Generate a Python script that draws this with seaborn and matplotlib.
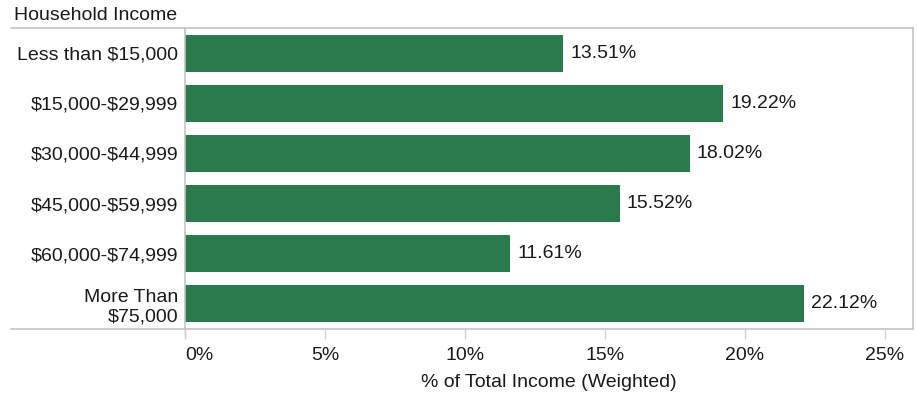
import matplotlib
matplotlib.use("Agg")
import matplotlib.pyplot as plt
import seaborn as sns
import pandas as pd

categories = ["Less than $15,000", "$15,000-$29,999", "$30,000-$44,999",
              "$45,000-$59,999", "$60,000-$74,999", "More Than\n$75,000"]
shares = [13.51, 19.22, 18.02, 15.52, 11.61, 22.12]
x_ticks = [0, 5, 10, 15, 20, 25]
x_tick_labels = ["0%", "5%", "10%", "15%", "20%", "25%"]

sns.set_theme(style="white")
plt.rcParams["font.family"] = ["Liberation Sans", "DejaVu Sans"]
plt.rcParams["text.parse_math"] = False

df = pd.DataFrame({"Household Income": categories, "share": shares})

W, H = 917, 393
FS = 14
TXT = "#1a1a1a"
fig = plt.figure(figsize=(W / 100, H / 100), dpi=100)
ax = fig.add_axes([185 / W, 1 - 329 / H, (913 - 185) / W, (329 - 28) / H])

sns.barplot(data=df, y="Household Income", x="share", orient="h",
            color="#2a7a4e", saturation=1, width=0.74, linewidth=0, ax=ax)

ax.set_xlim(0, 26)
ax.set_ylim(5.5, -0.5)

for i, v in enumerate(shares):
    ax.text(v + 0.25, i, f"{v:.2f}%", va="center", ha="left",
            fontsize=FS, color=TXT)

grey = "#c4c4c4"
for side in ["top", "right", "left", "bottom"]:
    ax.spines[side].set_visible(True)
    ax.spines[side].set_color(grey)
    ax.spines[side].set_linewidth(1.2)

ax.set_xticks(x_ticks)
ax.set_xticklabels(x_tick_labels, fontsize=FS, color=TXT)
ax.tick_params(axis="x", bottom=True, length=7, width=1, color="#d0d0d0",
               pad=6)
ax.tick_params(axis="y", left=False, length=0, labelsize=FS, labelcolor=TXT,
               pad=5)
ax.get_xticklabels()[0].set_horizontalalignment("left")
for lab in ax.get_yticklabels():
    lab.set_multialignment("right")

ax.set_ylabel("")
ax.set_xlabel("% of Total Income (Weighted)", fontsize=FS, color=TXT,
              labelpad=7)

# extended header/footer rules spanning the row-label column
fig.add_artist(plt.Line2D([11 / W, 185 / W], [1 - 28 / H, 1 - 28 / H],
                          color=grey, lw=1.2))
fig.add_artist(plt.Line2D([11 / W, 185 / W], [1 - 329 / H, 1 - 329 / H],
                          color=grey, lw=1.2))
fig.add_artist(plt.Line2D([185 / W, 185 / W], [1 - 329 / H, 1 - 337 / H],
                          color="#d0d0d0", lw=1.0))
fig.text(14 / W, 1 - 15 / H, "Household Income", fontsize=FS,
         color=TXT, va="center", ha="left")

fig.savefig("out.png", dpi=100)
